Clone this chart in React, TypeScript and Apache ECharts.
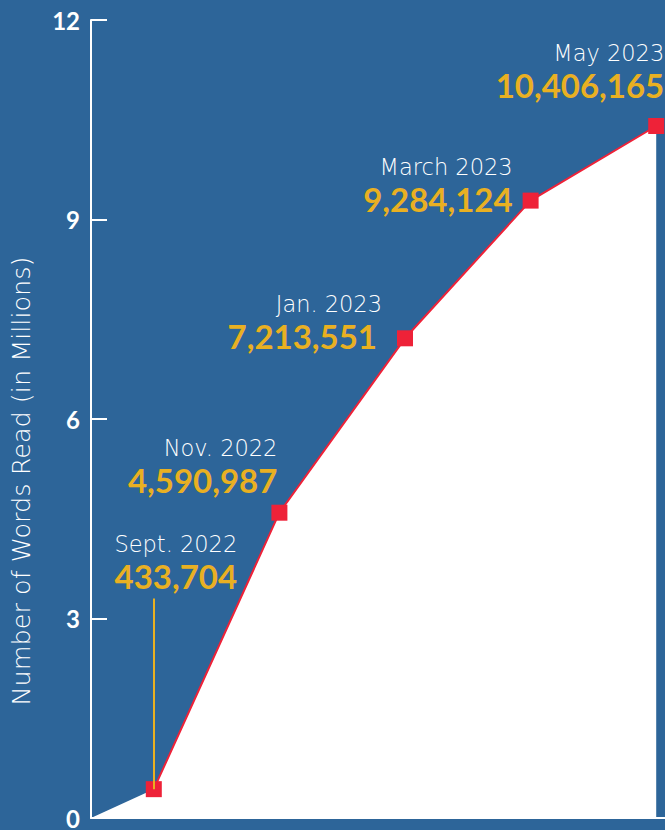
import React, { useEffect, useRef } from "react";
import * as echarts from "echarts";

const dates = ["Sept. 2022", "Nov. 2022", "Jan. 2023", "March 2023", "May 2023"];
const wordsRead = [433704, 4590987, 7213551, 9284124, 10406165];
const xPositions = [0.5, 1.5, 2.5, 3.5, 4.5];
const yMin = 0;
const yMax = 12;
const yInterval = 3;
const yTitle = "Number of Words Read (in Millions)";

const BLUE = "#2D6599";
const GOLD = "#E9B022";
const RED = "#EE2238";
const FONT = "Lato, 'DejaVu Sans', sans-serif";
const LIGHT_FONT = "'DejaVu Sans', Lato, sans-serif";

const labelLayouts: any[] = [
  { position: "top", distance: 188, align: "center", offset: [22, 0] },
  { position: "top", distance: 8, align: "right", offset: [-2, 0] },
  { position: "left", distance: 15, align: "right", offset: [0, -17], vPad: 5 },
  { position: "left", distance: 10, align: "right", offset: [0, -17] },
  { position: "top", distance: 16, align: "right", offset: [8, 0] },
];

export default function App() {
  const ref = useRef<HTMLDivElement>(null);
  useEffect(() => {
    if (!ref.current) return;
    const chart = echarts.init(ref.current, undefined, { renderer: "svg" });
    const millions = wordsRead.map((v) => v / 1e6);
    const points = millions.map((m, i) => {
      const l = labelLayouts[i];
      return {
        value: [xPositions[i], m],
        label: {
          show: true,
          position: l.position,
          distance: l.distance,
          align: l.align,
          offset: l.offset,
          formatter: `{d|${dates[i]}}\n{v|${wordsRead[i].toLocaleString("en-US")}}`,
          rich: {
            d: {
              fontFamily: LIGHT_FONT,
              fontWeight: 200,
              fontSize: 22.5,
              color: "#FFFFFF",
              lineHeight: 30,
              align: l.align,
            },
            v: {
              fontFamily: FONT,
              fontWeight: "bold",
              fontSize: 33,
              color: GOLD,
              lineHeight: 34,
              align: l.align,
              padding: l.vPad ? [0, l.vPad, 0, 0] : 0,
            },
          },
        },
      };
    });
    const areaData = [[0, 0], ...millions.map((m, i) => [xPositions[i], m])];
    chart.setOption({
      animation: false,
      backgroundColor: BLUE,
      grid: { left: 91, right: 0, top: 20, bottom: 10 },
      xAxis: {
        type: "value",
        min: 0,
        max: 4.57,
        axisLine: { show: true, lineStyle: { color: "#FFFFFF", width: 2 } },
        axisTick: { show: false },
        axisLabel: { show: false },
        splitLine: { show: false },
      },
      yAxis: {
        type: "value",
        min: yMin,
        max: yMax,
        interval: yInterval,
        axisLine: { show: true, lineStyle: { color: "#FFFFFF", width: 2 } },
        axisTick: {
          show: true,
          inside: true,
          length: 16,
          lineStyle: { color: "#FFFFFF", width: 2 },
        },
        axisLabel: {
          color: "#FFFFFF",
          fontFamily: FONT,
          fontWeight: "bold",
          fontSize: 24,
          margin: 11,
        },
        splitLine: { show: false },
      },
      graphic: [
        {
          type: "text",
          x: 21,
          y: 481,
          rotation: Math.PI / 2,
          style: {
            text: yTitle,
            fill: "#FFFFFF",
            font: `200 25.5px ${LIGHT_FONT}`,
            textAlign: "center",
            textVerticalAlign: "middle",
          },
        },
      ],
      series: [
        {
          type: "line",
          data: areaData,
          symbol: "none",
          lineStyle: { width: 0 },
          areaStyle: { color: "#FFFFFF", opacity: 1 },
          z: 1,
          silent: true,
          markLine: {
            silent: true,
            symbol: "none",
            label: { show: false },
            lineStyle: { color: GOLD, width: 2, type: "solid" },
            data: [[{ coord: [xPositions[0], millions[0]] }, { coord: [xPositions[0], 3.3] }]],
          },
        },
        {
          type: "line",
          data: points,
          symbol: "rect",
          symbolSize: 16,
          itemStyle: { color: RED },
          lineStyle: { color: RED, width: 2 },
          z: 3,
        },
      ],
    });
    return () => chart.dispose();
  }, []);
  return (
    <div
      ref={ref}
      style={{ position: "fixed", left: 0, top: 0, width: 665, height: 830 }}
    />
  );
}
